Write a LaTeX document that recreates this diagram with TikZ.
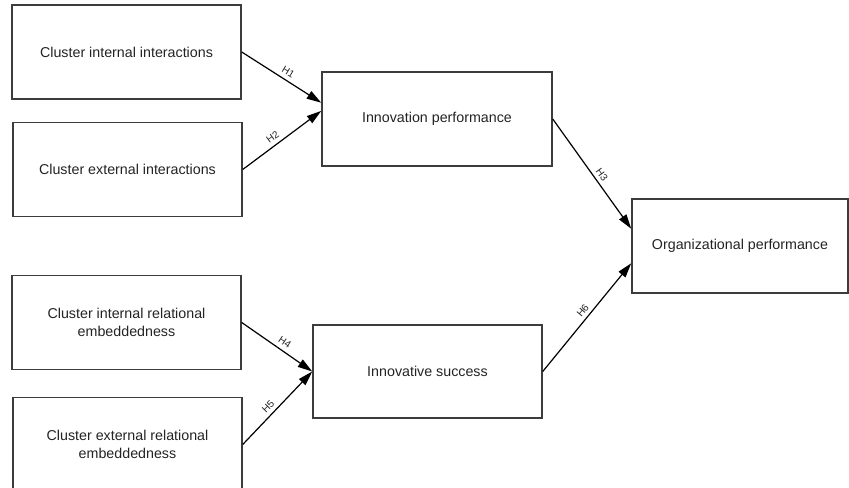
\documentclass[tikz,border=0pt]{standalone}
\usepackage{fontspec}
\setmainfont{Liberation Sans}
\usetikzlibrary{arrows.meta}

\tikzset{every picture/.style={line width=0.75pt}}
\tikzset{
  varbox/.style={draw={rgb, 255:red, 60; green, 60; blue, 60 }, line width=1.1pt, minimum width=171.75pt, minimum height=70.5pt, inner sep=0pt, align=center, text={rgb, 255:red, 35; green, 35; blue, 35 }, font=\fontsize{10.7}{13}\selectfont},
  hypo/.style={draw={rgb, 255:red, 0; green, 0; blue, 0 }, line width=0.9pt, -{Triangle[length=11pt,width=6.5pt]}},
  hlabel/.style={font=\fontsize{7.5}{8}\selectfont, anchor=south, inner sep=1pt, yshift=2.5pt, text={rgb, 255:red, 35; green, 35; blue, 35 }}
}

\begin{document}
\begin{tikzpicture}[x=0.75pt,y=0.75pt,yscale=-1,xscale=1]
\useasboundingbox (0,0) rectangle (849,488);

%Shape: Rectangle
\node [varbox] (cii) at (126.5,52) {Cluster internal interactions};
%Shape: Rectangle
\node [varbox] (cei) at (127.5,169.5) {Cluster external interactions};
%Shape: Rectangle
\node [varbox, minimum width=172.5pt] (ip) at (437,119) {Innovation performance};
%Shape: Rectangle
\node [varbox, minimum width=162pt] (op) at (740,246) {Organizational performance};
%Shape: Rectangle
\node [varbox] (cire) at (126.5,322.5) {Cluster internal relational\\embeddedness};
%Shape: Rectangle
\node [varbox] (cere) at (127.5,444.5) {Cluster external relational\\embeddedness};
%Shape: Rectangle
\node [varbox, minimum height=69.75pt] (is) at (427.5,371.5) {Innovative success};

%Straight Lines
\draw [hypo] (cii.east) -- node [hlabel, pos=0.55, rotate=-31.7] (h1) {H1} (ip.172);
%Straight Lines
\draw [hypo] (cei.east) -- node [hlabel, pos=0.42, rotate=35.7] (h2) {H2} (ip.176.5);
%Straight Lines
\draw [hypo] (ip.east) -- node [hlabel, pos=0.57, rotate=-54.2] (h3) {H3} (op.171.5);
%Straight Lines
\draw [hypo] (cire.east) -- node [hlabel, pos=0.57, rotate=-34.2] (h4) {H4} (is.west);
%Straight Lines
\draw [hypo] (cere.east) -- node [hlabel, pos=0.42, rotate=45.8] (h5) {H5} (is.west);
%Straight Lines
\draw [hypo] (is.east) -- node [hlabel, pos=0.5, rotate=50.1] (h6) {H6} (op.189.5);

\end{tikzpicture}
\end{document}
